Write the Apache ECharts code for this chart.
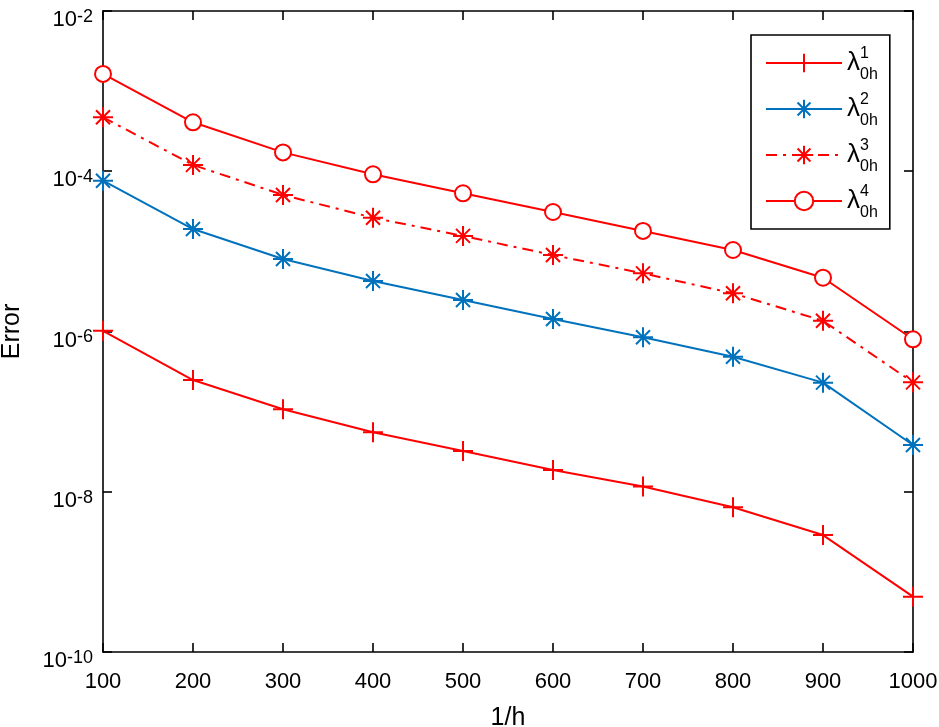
<!DOCTYPE html>
<html>
<head>
<meta charset="utf-8">
<script src="https://cdn.jsdelivr.net/npm/echarts/dist/echarts.min.js"></script>
<style>html,body{margin:0;padding:0;background:#fff}#c{width:939px;height:727px}</style>
</head>
<body>
<div id="c"></div>
<script>
// ---- data ----
const xValues = [100, 200, 300, 400, 500, 600, 700, 800, 900, 1000];
const err1 = [1.02e-6, 2.48e-7, 1.07e-7, 5.52e-8, 3.23e-8, 1.87e-8, 1.16e-8, 6.40e-9, 2.88e-9, 4.90e-10];
const err2 = [7.62e-5, 1.90e-5, 8.03e-6, 4.27e-6, 2.47e-6, 1.43e-6, 8.47e-7, 4.84e-7, 2.30e-7, 3.83e-8];
const err3 = [4.71e-4, 1.20e-4, 5.06e-5, 2.63e-5, 1.56e-5, 9.00e-6, 5.32e-6, 3.00e-6, 1.36e-6, 2.32e-7];
const err4 = [1.64e-3, 4.08e-4, 1.72e-4, 9.16e-5, 5.31e-5, 3.10e-5, 1.80e-5, 1.04e-5, 4.69e-6, 8.00e-7];
const seriesNames = ['lam1', 'lam2', 'lam3', 'lam4'];
const seriesSup = ['1', '2', '3', '4'];
const seriesSub = '0h';
const xTickStep = 100;
const yExpMin = -10, yExpMax = -2, yExpStep = 2;
const xName = '1/h', yName = 'Error';

const F = '"Liberation Sans", Arial, Helvetica, sans-serif';
const RED = '#FF0000', BLUE = '#0072BD';
const PLUS = 'path://M0,-1L0,1M-1,0L1,0';
const STAR = 'path://M0,-1L0,1M-1,0L1,0M-0.7,-0.7L0.7,0.7M-0.7,0.7L0.7,-0.7';

const pairs = arr => xValues.map((x, i) => [x, arr[i]]);

const axisCommon = {
  axisLine: { show: true, onZero: false, lineStyle: { color: '#000', width: 1.6 } },
  axisTick: { show: true, inside: true, length: 9, lineStyle: { color: '#000', width: 1.6 } },
  splitLine: { show: false },
  minorTick: { show: false }
};

const chart = echarts.init(document.getElementById('c'), null, { renderer: 'canvas' });
chart.setOption({
  animation: false,
  backgroundColor: '#fff',
  grid: { left: 103, right: 26, top: 11, bottom: 75, containLabel: false, outerBoundsMode: 'none' },
  xAxis: [
    Object.assign({
      type: 'value', min: xValues[0], max: xValues[xValues.length - 1], interval: xTickStep,
      position: 'bottom',
      name: xName, nameLocation: 'middle', nameGap: 54,
      nameTextStyle: { fontFamily: F, fontSize: 25, color: '#000' },
      axisLabel: { fontFamily: F, fontSize: 22, color: '#000', margin: 19, formatter: v => String(v) }
    }, axisCommon),
    Object.assign({
      type: 'value', min: xValues[0], max: xValues[xValues.length - 1], interval: xTickStep,
      position: 'top', axisLabel: { show: false }
    }, axisCommon)
  ],
  yAxis: [
    Object.assign({
      type: 'log', logBase: 10, min: Math.pow(10, yExpMin), max: Math.pow(10, yExpMax), interval: yExpStep,
      position: 'left',
      name: yName, nameLocation: 'middle', nameGap: 78,
      nameTextStyle: { fontFamily: F, fontSize: 25, color: '#000' },
      axisLabel: {
        margin: 10,
        padding: [17, 0, 0, 0],
        formatter: v => '{b|10}{s|' + Math.round(Math.log10(v)) + '}',
        rich: {
          b: { fontFamily: F, fontSize: 22, color: '#000', lineHeight: 23, verticalAlign: 'bottom' },
          s: { fontFamily: F, fontSize: 18, color: '#000', lineHeight: 19, verticalAlign: 'top' }
        }
      }
    }, axisCommon),
    Object.assign({
      type: 'log', logBase: 10, min: Math.pow(10, yExpMin), max: Math.pow(10, yExpMax), interval: yExpStep,
      position: 'right', axisLabel: { show: false }
    }, axisCommon)
  ],
  legend: {
    orient: 'vertical', left: 751, top: 35,
    padding: [8, 12, 8, 14],
    itemGap: 6, itemWidth: 76, itemHeight: 23,
    backgroundColor: '#fff', borderColor: '#000', borderWidth: 1.6, borderRadius: 0,
    data: seriesNames,
    formatter: name => {
      const i = seriesNames.indexOf(name);
      return '{l|λ}{p|' + seriesSup[i] + '}{q|' + seriesSub + '}';
    },
    textStyle: {
      rich: {
        l: { fontFamily: F, fontSize: 26, color: '#000', lineHeight: 40, verticalAlign: 'middle' },
        p: { fontFamily: F, fontSize: 16, color: '#000', lineHeight: 17, verticalAlign: 'top', width: 0, padding: [3, 0, 0, 0] },
        q: { fontFamily: F, fontSize: 16, color: '#000', lineHeight: 17, verticalAlign: 'bottom' }
      }
    }
  },
  series: [
    {
      name: seriesNames[0], type: 'line', data: pairs(err1),
      symbol: PLUS, symbolSize: 20,
      lineStyle: { color: RED, width: 2 },
      itemStyle: { color: RED, borderColor: RED, borderWidth: 2 }
    },
    {
      name: seriesNames[1], type: 'line', data: pairs(err2),
      symbol: STAR, symbolSize: 20,
      lineStyle: { color: BLUE, width: 2 },
      itemStyle: { color: BLUE, borderColor: BLUE, borderWidth: 2 }
    },
    {
      name: seriesNames[2], type: 'line', data: pairs(err3),
      symbol: STAR, symbolSize: 20,
      lineStyle: { color: RED, width: 2, type: [11, 6, 3, 6] },
      itemStyle: { color: RED, borderColor: RED, borderWidth: 2 }
    },
    {
      name: seriesNames[3], type: 'line', data: pairs(err4),
      symbol: 'circle', symbolSize: 16,
      lineStyle: { color: RED, width: 2 },
      itemStyle: { color: '#fff', borderColor: RED, borderWidth: 2 }
    }
  ]
});
</script>
</body>
</html>
